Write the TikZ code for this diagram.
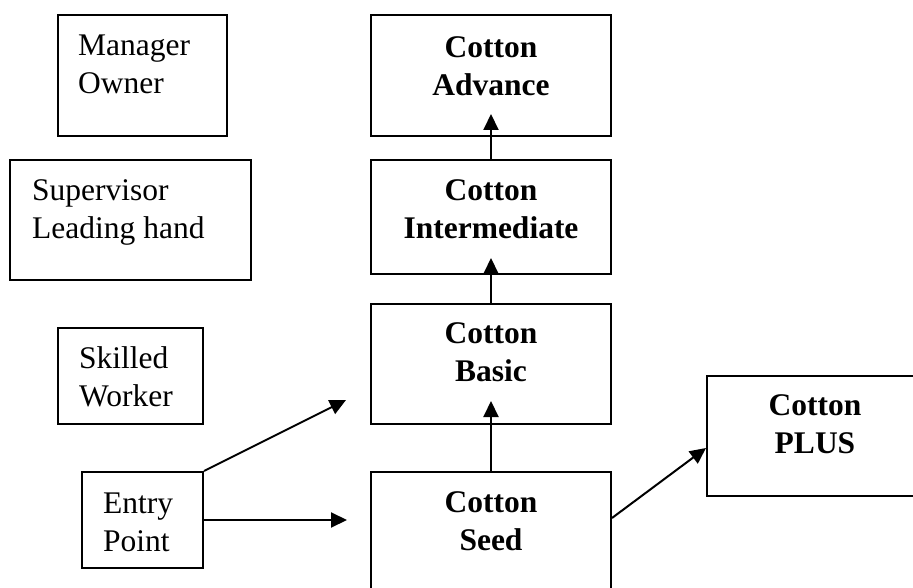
\documentclass[tikz,border=0pt]{standalone}
\usepackage{fontspec}
\setmainfont{Liberation Serif}
\usetikzlibrary{arrows.meta}
\begin{document}
\begin{tikzpicture}[x=1pt,y=-1pt,
  box/.style={draw=black, line width=2pt, inner sep=0pt, fill=none},
  txt/.style={inner sep=0pt, font=\fontsize{31.5}{38.6}\selectfont},
  ltxt/.style={txt, anchor=north west, align=left},
  ctxt/.style={txt, anchor=north, align=center, font=\fontsize{31.5}{38.6}\selectfont\bfseries},
  arr/.style={line width=2pt, -{Triangle[length=16pt,width=15pt]}}]
\useasboundingbox (0,0) rectangle (913,588);
% left boxes
\node[box, minimum width=169pt, minimum height=121pt] (mgr) at (142.5,75.5) {};
\node[box, minimum width=241pt, minimum height=120pt] (sup) at (130.5,220) {};
\node[box, minimum width=145pt, minimum height=96pt] (skl) at (130.5,376) {};
\node[box, minimum width=121pt, minimum height=96pt] (entry) at (142.5,520) {};
% cotton boxes
\node[box, minimum width=240pt, minimum height=121pt] (adv) at (491,75.5) {};
\node[box, minimum width=240pt, minimum height=114pt] (inter) at (491,217) {};
\node[box, minimum width=240pt, minimum height=120pt] (basic) at (491,364) {};
\node[box, minimum width=240pt, minimum height=148pt] (seed) at (491,546) {};
\node[box, minimum width=216pt, minimum height=120pt] (plus) at (815,436) {};
% texts
\node[ltxt] (mgrT) at (78,25) {\rule{0pt}{30pt}Manager\\Owner};
\node[ltxt] (supT) at (32,170) {\rule{0pt}{30pt}Supervisor\\Leading hand};
\node[ltxt] (sklT) at (79,338) {\rule{0pt}{30pt}Skilled\\Worker};
\node[ltxt] (entryT) at (103,483) {\rule{0pt}{30pt}Entry\\Point};
\node[ctxt] (advT) at (491,27) {\rule{0pt}{30pt}Cotton\\Advance};
\node[ctxt] (interT) at (491,170) {\rule{0pt}{30pt}Cotton\\Intermediate};
\node[ctxt] (basicT) at (491,313) {\rule{0pt}{30pt}Cotton\\Basic};
\node[ctxt] (seedT) at (491,482) {\rule{0pt}{30pt}Cotton\\Seed};
\node[ctxt] (plusT) at (815,385) {\rule{0pt}{30pt}Cotton\\PLUS};
% connectors
\coordinate (e1) at (347,520);
\coordinate (e2) at (346,400);
\draw[arr] (seed.north) -- ([yshift=24pt]basic.south);
\draw[arr] (basic.north) -- ([yshift=17pt]inter.south);
\draw[arr] (inter.north) -- ([yshift=23pt]adv.south);
\draw[arr] (entry.east) -- (e1);
\draw[arr] (entry.north east) -- (e2);
\draw[arr] ([yshift=-47pt]seed.north east) -- ([yshift=-73pt]plus.north west);
\end{tikzpicture}
\end{document}
